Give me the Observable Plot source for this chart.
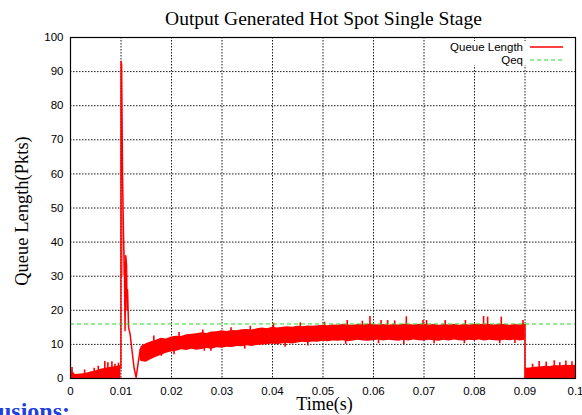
<!DOCTYPE html>
<html><head><meta charset="utf-8">
<script src="https://cdn.jsdelivr.net/npm/d3@7"></script>
<script src="https://cdn.jsdelivr.net/npm/@observablehq/plot@0.6"></script>
<style>
body{margin:0;background:#fff;}
#chart{position:relative;width:582px;height:415px;overflow:hidden;}
</style>
</head><body><div id="chart"></div>
<script>
// ---- axis ticks ----
const xTicks = [0,0.01,0.02,0.03,0.04,0.05,0.06,0.07,0.08,0.09,0.1];
const xTickLabels = ["0","0.01","0.02","0.03","0.04","0.05","0.06","0.07","0.08","0.09","0.1"];
const yTicks = [0,10,20,30,40,50,60,70,80,90,100];
const titleText = "Output Generated Hot Spot Single Stage";
const xLabel = "Time(s)";
const yLabel = "Queue Length(Pkts)";
const seriesNames = ["Queue Length","Qeq"];
const qeq = 16;

// ---- queue length envelope (min / max of the fast oscillation) ----
const bandSeg = [
 "a","a","a","a","a","a","a","a","a","a","a",
 "b","b","b","b","b","b","b","b","b","b","b","b","b","b","b","b","b","b","b","b",
 "b","b","b","b","b","b","b","b","b","b","b","b","b","b","b","b","b","b","b","b",
 "b","b","b","b","b","b","b","b","b","b","b","b","b","b","b","b","b","b","b","b",
 "b","b","b","b","b","b","b","b","b","b","b","b","b","b","b","b","b","b",
 "c","c","c","c","c","c","c","c","c","c","c"];
const bandT = [
 0,0.001,0.002,0.003,0.004,0.005,0.006,0.007,0.008,0.009,0.010,
 0.0138,0.014,0.015,0.016,0.017,0.018,0.019,0.020,0.021,0.022,0.023,0.024,0.025,0.026,0.027,0.028,0.029,0.030,0.031,0.032,
 0.033,0.034,0.035,0.036,0.037,0.038,0.039,0.040,0.041,0.042,0.043,0.044,0.045,0.046,0.047,0.048,0.049,0.050,0.051,0.052,
 0.053,0.054,0.055,0.056,0.057,0.058,0.059,0.060,0.061,0.062,0.063,0.064,0.065,0.066,0.067,0.068,0.069,0.070,0.071,0.072,
 0.073,0.074,0.075,0.076,0.077,0.078,0.079,0.080,0.081,0.082,0.083,0.084,0.085,0.086,0.087,0.088,0.089,0.090,
 0.0901,0.091,0.092,0.093,0.094,0.095,0.096,0.097,0.098,0.099,0.100];
const bandLo = [
 0,0,0,0,0,0,0,0,0,0,0,
 5.6,5.0,4.8,5.6,6.2,6.8,7.4,7.8,8.0,8.4,8.2,8.6,8.3,8.5,8.8,8.6,9.0,8.9,9.2,9.1,
 9.4,9.3,9.6,9.4,9.7,9.8,9.9,10.1,9.9,10.2,10.3,10.1,10.4,10.6,10.5,10.7,10.6,10.9,10.8,11.0,
 10.9,11.1,10.8,11.0,11.2,11.0,10.9,11.1,11.3,11.0,11.2,11.1,10.9,11.2,11.0,11.3,11.1,11.0,11.2,11.1,
 10.9,11.2,11.0,11.3,11.1,11.0,11.2,11.1,11.3,11.0,11.2,11.1,11.0,11.2,11.1,11.3,11.0,11.2,
 0,0,0,0,0,0,0,0,0,0,0];
const bandHi = [
 2.6,1.2,1.3,1.5,1.9,2.2,2.7,3.0,3.3,3.5,3.8,
 8.4,9.4,10.2,10.8,11.2,11.8,11.6,12.2,12.4,12.3,12.8,13.0,13.1,13.4,13.2,13.6,13.7,14.0,13.8,14.1,
 14.0,14.3,14.4,14.2,14.6,14.8,14.6,15.0,14.8,15.0,15.2,15.0,15.3,15.2,15.4,15.3,15.5,15.6,15.5,15.7,
 15.6,15.8,15.7,15.6,15.8,15.7,15.9,15.8,15.7,15.8,15.6,15.8,15.7,15.9,15.8,15.7,15.8,15.9,15.7,15.8,
 15.6,15.8,15.7,15.8,15.6,15.8,15.7,15.9,15.8,15.9,15.8,15.7,15.9,15.8,15.6,15.8,15.7,15.8,
 3.0,3.1,3.3,3.4,3.6,3.5,3.8,3.7,3.9,3.8,3.9];

// ---- individual excursions (spikes / dips) beyond the envelope ----
const spikeT  = [0.0003,0.0028,0.0047,0.0055,0.0068,0.0074,0.0082,0.0088,0.0095,
  0.0165,0.0215,0.0262,0.0318,0.0356,0.0402,0.0455,0.0503,0.0548,0.0578,0.0593,0.0615,0.0628,0.0642,0.0665,0.0698,0.0705,0.0742,0.0782,0.0818,0.0826,0.0853,0.0896,
  0.0180,0.0205,0.0265,0.0278,0.0345,0.0425,0.0470,0.0545,0.0610,0.0660,0.0720,0.0780,0.0850,0.0880,
  0.0900,
  0.0915,0.0928,0.0942,0.0958,0.0969,0.0981,0.0993];
const spikeLo = [0,0,0,0,0,0,0,0,0,
  9,10,10,11,12,12,13,13,13,13,13,13,13,13,13,13,13,13,13,13,13,13,13,
  6.5,7.0,8.0,8.0,8.6,9.2,9.5,10.0,10.2,10.0,10.2,10.2,10.2,10.3,
  0,
  0,0,0,0,0,0,0];
const spikeHi = [3.2,2.5,3.0,3.6,5.0,4.6,4.9,4.2,4.5,
  12.5,13.5,14.2,14.9,15.3,16.2,16.3,16.5,17.0,16.8,18.2,17.0,17.0,16.9,18.1,17.0,17.0,17.0,17.0,18.2,18.0,18.0,17.0,
  9,10,10,10,11,12,12,12,12,12,12,12,12,12,
  15.8,
  4.2,5.0,4.8,5.2,4.6,5.1,4.9];

// ---- overshoot at t = 0.01 ----
const peakT = [0.00998,0.01001,0.01012,0.0103,0.0105,0.0107,0.0108,0.01095,0.0111,0.0112,0.0113,0.0115,0.0118,0.0122,0.0126,0.0130,0.0134,0.0138];
const peakQ = [3,93,92,60,42,30,14,36,33,20,26,15,13,8,3,0.3,4.5,8.5];
const decayT  = [0.01003,0.0102,0.0104,0.0106,0.0108];
const decayLo = [30,30,30,30,30];
const decayHi = [93,75,55,40,36];

const red = "#ff0000", green = "#22dd22";
const idx = a => a.map((_, i) => i);

const svg = Plot.plot({
  width: 582, height: 415,
  marginLeft: 70, marginRight: 7, marginTop: 37, marginBottom: 37,
  style: {fontFamily: "'Liberation Sans', Arial, sans-serif", fontSize: "11.5px", background: "#fff", color: "#000"},
  x: {domain: [0, 0.1]},
  y: {domain: [0, 100]},
  marks: [
    Plot.gridX(xTicks, {stroke: "#000", strokeOpacity: 1, strokeWidth: 0.9, strokeDasharray: "1.5,1.5"}),
    Plot.gridY(yTicks, {stroke: "#000", strokeOpacity: 1, strokeWidth: 0.9, strokeDasharray: "1.5,1.5"}),
    Plot.areaY(idx(bandT), {x: i => bandT[i], y1: i => bandLo[i], y2: i => bandHi[i], z: i => bandSeg[i], fill: red, clip: true}),
    Plot.ruleX(idx(spikeT), {x: i => spikeT[i], y1: i => spikeLo[i], y2: i => spikeHi[i], stroke: red, strokeWidth: 1.6, clip: true}),
    Plot.areaY(idx(decayT), {x: i => decayT[i], y1: i => decayLo[i], y2: i => decayHi[i], fill: red, fillOpacity: 0.4}),
    Plot.line(idx(peakT), {x: i => peakT[i], y: i => peakQ[i], stroke: red, strokeWidth: 1.5}),
    Plot.ruleY([qeq], {stroke: green, strokeWidth: 1, strokeDasharray: "4,3"}),
    Plot.axisX(xTicks, {anchor: "bottom", tickSize: 0, tickPadding: 8, tickFormat: d => xTickLabels[xTicks.indexOf(d)], label: null}),
    Plot.axisY(yTicks, {anchor: "left", tickSize: 0, tickPadding: 7, label: null}),
    Plot.frame({stroke: "#000", strokeWidth: 1.2})
  ]
});
document.getElementById("chart").appendChild(svg);

const s = d3.select(svg);
const serif = "'Liberation Serif', 'Times New Roman', serif";
s.append("text").attr("x", 323.5).attr("y", 25).attr("text-anchor", "middle")
  .attr("font-family", serif).attr("font-size", "19.5px").attr("fill", "#000").text(titleText);
s.append("text").attr("x", 324.5).attr("y", 410).attr("text-anchor", "middle")
  .attr("font-family", serif).attr("font-size", "18px").attr("fill", "#000").text(xLabel);
s.append("text").attr("transform", "translate(28,211) rotate(-90)").attr("text-anchor", "middle")
  .attr("font-family", serif).attr("font-size", "18.5px").attr("fill", "#000").text(yLabel);
s.append("text").attr("x", -2).attr("y", 419).attr("text-anchor", "start")
  .attr("font-family", serif).attr("font-weight", "bold").attr("font-size", "24px").attr("fill", "#2040e0").text("usions:");

// legend
const lg = s.append("g").attr("font-family", "'Liberation Sans', Arial, sans-serif").attr("font-size", "11.5px");
lg.append("rect").attr("x", 446).attr("y", 41).attr("width", 124).attr("height", 24).attr("fill", "#fff");
lg.append("text").attr("x", 523).attr("y", 47).attr("dy", "0.35em").attr("text-anchor", "end").attr("fill", "#000").text(seriesNames[0]);
lg.append("line").attr("x1", 530).attr("x2", 563).attr("y1", 47).attr("y2", 47).attr("stroke", red).attr("stroke-width", 1.3);
lg.append("text").attr("x", 523).attr("y", 60).attr("dy", "0.35em").attr("text-anchor", "end").attr("fill", "#000").text(seriesNames[1]);
lg.append("line").attr("x1", 530).attr("x2", 563).attr("y1", 60).attr("y2", 60).attr("stroke", green).attr("stroke-width", 1).attr("stroke-dasharray", "4,3");
</script>
</body></html>
